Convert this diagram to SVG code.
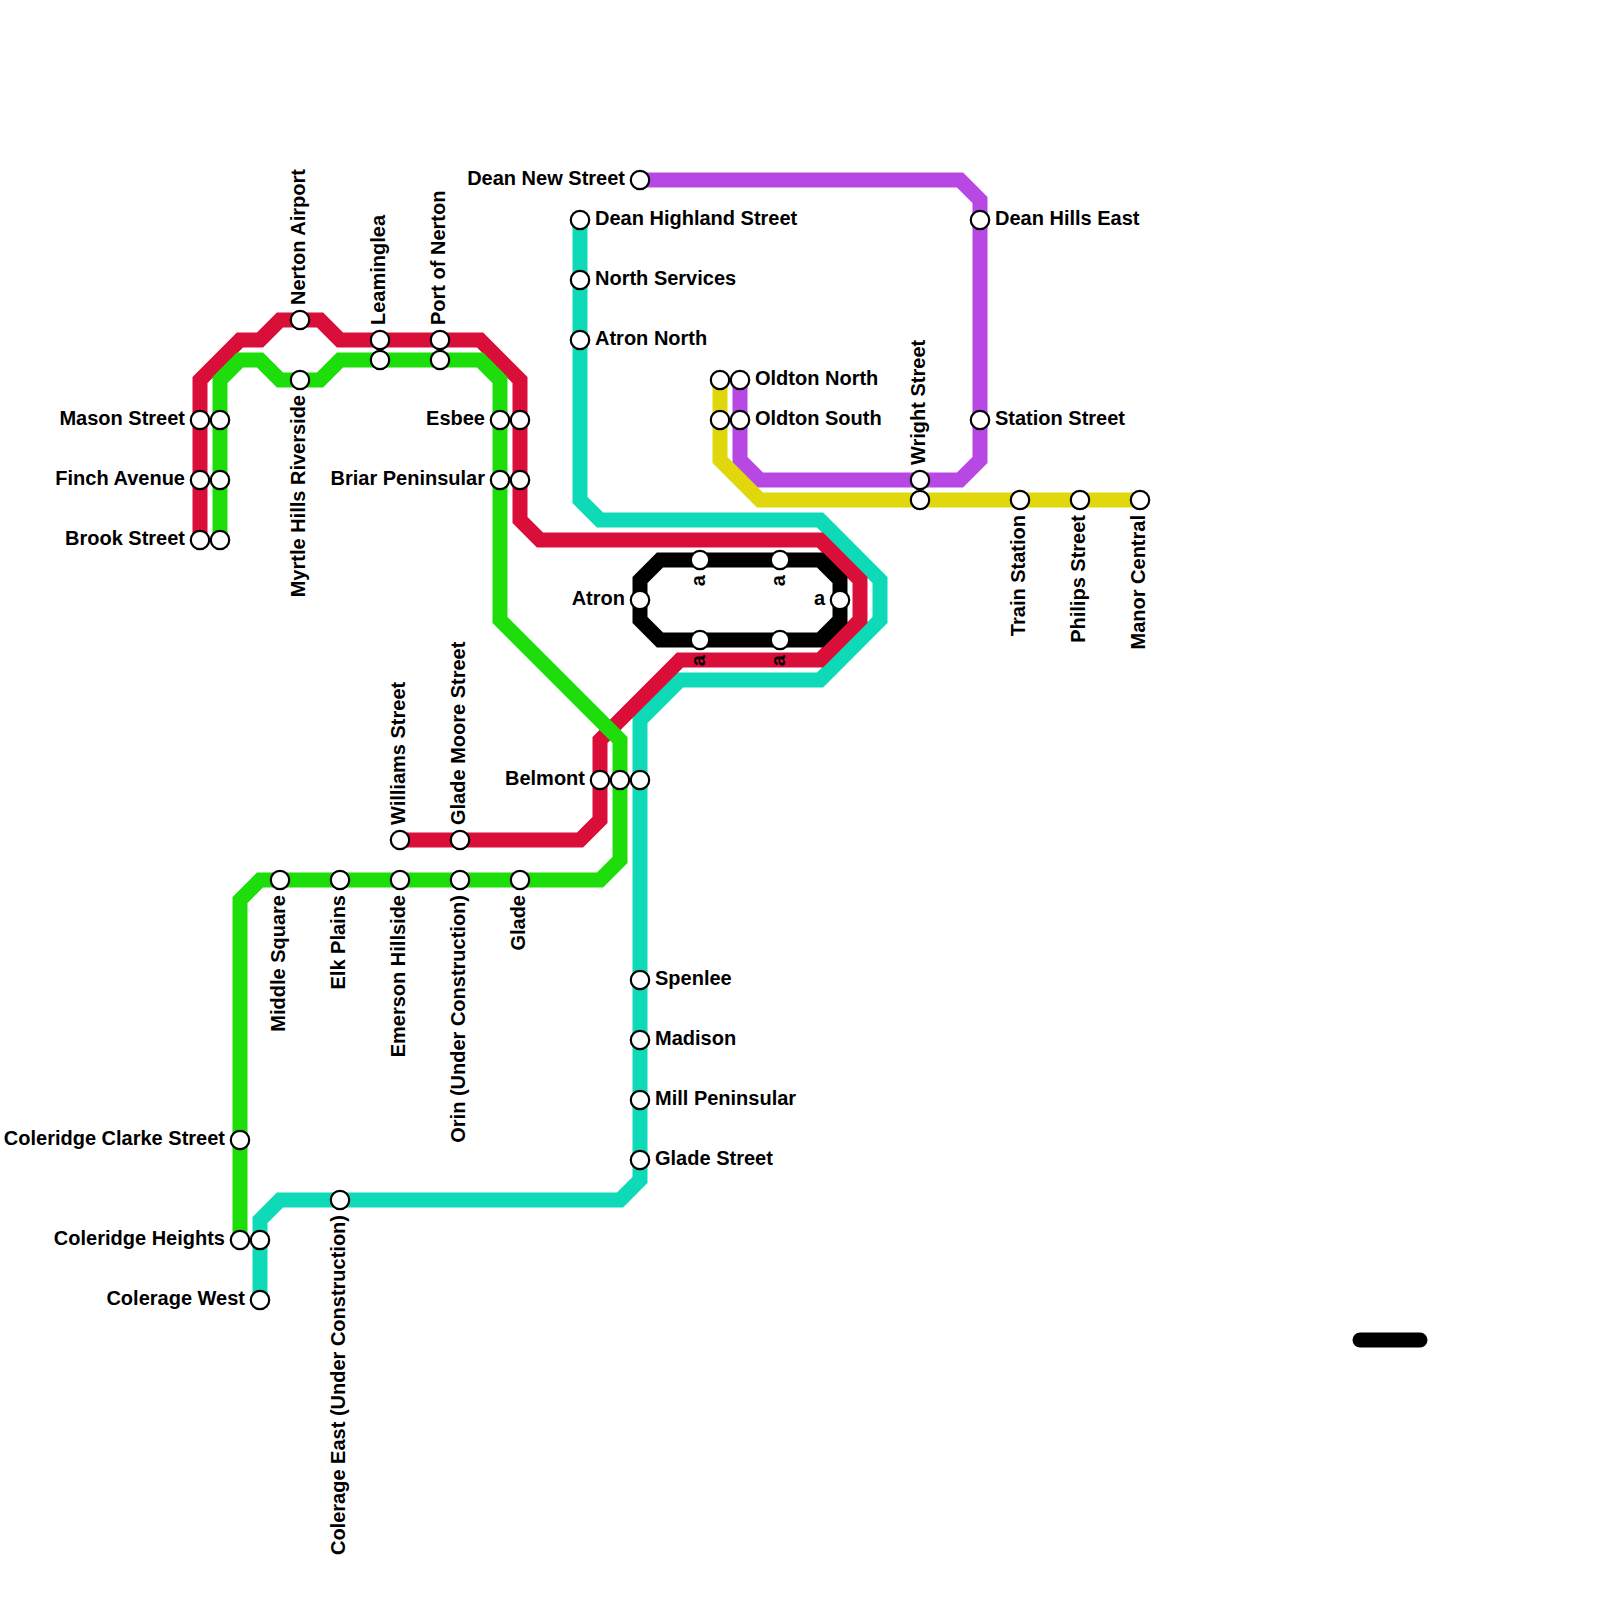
<svg xmlns="http://www.w3.org/2000/svg" width="1600" height="1600" viewBox="0 0 1600 1600">
<style>
.l{fill:none;stroke-width:15;stroke-linejoin:miter;stroke-linecap:butt}
.s{fill:#fff;stroke:#000;stroke-width:2.2}
text{font-family:"Liberation Sans",Arial,sans-serif;font-weight:700;font-size:20px;fill:#000}
.e{text-anchor:end}
</style>
<rect width="1600" height="1600" fill="#fff"/>
<g id="connectors">
<polyline class="l" stroke="#0fdab8" points="580,220 580,500 600,520 820,520 880,580 880,620 820,680 680,680 640,720 640,1180 620,1200 280,1200 260,1220 260,1300"/>
<polyline class="l" stroke="#d90f3a" points="200,540 200,380 240,340 260,340 280,320 320,320 340,340 480,340 520,380 520,520 540,540 820,540 860,580 860,620 820,660 680,660 600,740 600,820 580,840 400,840"/>
<polyline class="l" stroke="#1ddd0b" points="220,540 220,380 240,360 260,360 280,380 320,380 340,360 480,360 500,380 500,620 620,740 620,860 600,880 260,880 240,900 240,1240"/>
<polygon class="l" stroke="#000" points="640,580 660,560 820,560 840,580 840,620 820,640 660,640 640,620"/>
<polyline class="l" stroke="#b748e3" points="640,180 960,180 980,200 980,460 960,480 760,480 740,460 740,380"/>
<polyline class="l" stroke="#e0d80c" points="720,380 720,460 760,500 1140,500"/>
<line x1="1360" y1="1340" x2="1420" y2="1340" stroke="#000" stroke-width="15" stroke-linecap="round"/>
</g>
<g id="n-mason"><circle class="s" cx="200" cy="420" r="9.2"/><text class="e" x="185" y="425">Mason Street</text></g>
<g id="n-finch"><circle class="s" cx="200" cy="480" r="9.2"/><text class="e" x="185" y="485">Finch Avenue</text></g>
<g id="n-brook"><circle class="s" cx="200" cy="540" r="9.2"/><text class="e" x="185" y="545">Brook Street</text></g>
<g id="n-mason-g"><circle class="s" cx="220" cy="420" r="9.2"/></g>
<g id="n-finch-g"><circle class="s" cx="220" cy="480" r="9.2"/></g>
<g id="n-brook-g"><circle class="s" cx="220" cy="540" r="9.2"/></g>
<g id="n-nerton"><circle class="s" cx="300" cy="320" r="9.2"/><text transform="translate(305,305) rotate(-90)">Nerton Airport</text></g>
<g id="n-myrtle"><circle class="s" cx="300" cy="380" r="9.2"/><text class="e" transform="translate(305,395) rotate(-90)">Myrtle Hills Riverside</text></g>
<g id="n-leaminglea"><circle class="s" cx="380" cy="340" r="9.2"/><text transform="translate(385,325) rotate(-90)">Leaminglea</text></g>
<g id="n-leaminglea-g"><circle class="s" cx="380" cy="360" r="9.2"/></g>
<g id="n-port"><circle class="s" cx="440" cy="340" r="9.2"/><text transform="translate(445,325) rotate(-90)">Port of Nerton</text></g>
<g id="n-port-g"><circle class="s" cx="440" cy="360" r="9.2"/></g>
<g id="n-esbee"><circle class="s" cx="500" cy="420" r="9.2"/><text class="e" x="485" y="425">Esbee</text></g>
<g id="n-esbee-r"><circle class="s" cx="520" cy="420" r="9.2"/></g>
<g id="n-briar"><circle class="s" cx="500" cy="480" r="9.2"/><text class="e" x="485" y="485">Briar Peninsular</text></g>
<g id="n-briar-r"><circle class="s" cx="520" cy="480" r="9.2"/></g>
<g id="n-deannew"><circle class="s" cx="640" cy="180" r="9.2"/><text class="e" x="625" y="185">Dean New Street</text></g>
<g id="n-deanhigh"><circle class="s" cx="580" cy="220" r="9.2"/><text x="595" y="225">Dean Highland Street</text></g>
<g id="n-north"><circle class="s" cx="580" cy="280" r="9.2"/><text x="595" y="285">North Services</text></g>
<g id="n-atronn"><circle class="s" cx="580" cy="340" r="9.2"/><text x="595" y="345">Atron North</text></g>
<g id="n-oldn-y"><circle class="s" cx="720" cy="380" r="9.2"/></g>
<g id="n-oldn"><circle class="s" cx="740" cy="380" r="9.2"/><text x="755" y="385">Oldton North</text></g>
<g id="n-olds-y"><circle class="s" cx="720" cy="420" r="9.2"/></g>
<g id="n-olds"><circle class="s" cx="740" cy="420" r="9.2"/><text x="755" y="425">Oldton South</text></g>
<g id="n-wright"><circle class="s" cx="920" cy="480" r="9.2"/><text transform="translate(925,465) rotate(-90)">Wright Street</text></g>
<g id="n-wright-y"><circle class="s" cx="920" cy="500" r="9.2"/></g>
<g id="n-deanhills"><circle class="s" cx="980" cy="220" r="9.2"/><text x="995" y="225">Dean Hills East</text></g>
<g id="n-station"><circle class="s" cx="980" cy="420" r="9.2"/><text x="995" y="425">Station Street</text></g>
<g id="n-train"><circle class="s" cx="1020" cy="500" r="9.2"/><text class="e" transform="translate(1025,515) rotate(-90)">Train Station</text></g>
<g id="n-philips"><circle class="s" cx="1080" cy="500" r="9.2"/><text class="e" transform="translate(1085,515) rotate(-90)">Philips Street</text></g>
<g id="n-manor"><circle class="s" cx="1140" cy="500" r="9.2"/><text class="e" transform="translate(1145,515) rotate(-90)">Manor Central</text></g>
<g id="n-atron"><circle class="s" cx="640" cy="600" r="9.2"/><text class="e" x="625" y="605">Atron</text></g>
<g id="n-a1"><circle class="s" cx="700" cy="560" r="9.2"/><text class="e" transform="translate(705,575) rotate(-90)">a</text></g>
<g id="n-a2"><circle class="s" cx="780" cy="560" r="9.2"/><text class="e" transform="translate(785,575) rotate(-90)">a</text></g>
<g id="n-a3"><circle class="s" cx="840" cy="600" r="9.2"/><text class="e" x="825" y="605">a</text></g>
<g id="n-a4"><circle class="s" cx="700" cy="640" r="9.2"/><text class="e" transform="translate(705,655) rotate(-90)">a</text></g>
<g id="n-a5"><circle class="s" cx="780" cy="640" r="9.2"/><text class="e" transform="translate(785,655) rotate(-90)">a</text></g>
<g id="n-belmont"><circle class="s" cx="600" cy="780" r="9.2"/><text class="e" x="585" y="785">Belmont</text></g>
<g id="n-belmont-g"><circle class="s" cx="620" cy="780" r="9.2"/></g>
<g id="n-belmont-t"><circle class="s" cx="640" cy="780" r="9.2"/></g>
<g id="n-williams"><circle class="s" cx="400" cy="840" r="9.2"/><text transform="translate(405,825) rotate(-90)">Williams Street</text></g>
<g id="n-glademoore"><circle class="s" cx="460" cy="840" r="9.2"/><text transform="translate(465,825) rotate(-90)">Glade Moore Street</text></g>
<g id="n-middle"><circle class="s" cx="280" cy="880" r="9.2"/><text class="e" transform="translate(285,895) rotate(-90)">Middle Square</text></g>
<g id="n-elk"><circle class="s" cx="340" cy="880" r="9.2"/><text class="e" transform="translate(345,895) rotate(-90)">Elk Plains</text></g>
<g id="n-emerson"><circle class="s" cx="400" cy="880" r="9.2"/><text class="e" transform="translate(405,895) rotate(-90)">Emerson Hillside</text></g>
<g id="n-orin"><circle class="s" cx="460" cy="880" r="9.2"/><text class="e" transform="translate(465,895) rotate(-90)">Orin (Under Construction)</text></g>
<g id="n-glade"><circle class="s" cx="520" cy="880" r="9.2"/><text class="e" transform="translate(525,895) rotate(-90)">Glade</text></g>
<g id="n-spenlee"><circle class="s" cx="640" cy="980" r="9.2"/><text x="655" y="985">Spenlee</text></g>
<g id="n-madison"><circle class="s" cx="640" cy="1040" r="9.2"/><text x="655" y="1045">Madison</text></g>
<g id="n-mill"><circle class="s" cx="640" cy="1100" r="9.2"/><text x="655" y="1105">Mill Peninsular</text></g>
<g id="n-gladest"><circle class="s" cx="640" cy="1160" r="9.2"/><text x="655" y="1165">Glade Street</text></g>
<g id="n-clarke"><circle class="s" cx="240" cy="1140" r="9.2"/><text class="e" x="225" y="1145">Coleridge Clarke Street</text></g>
<g id="n-heights"><circle class="s" cx="240" cy="1240" r="9.2"/><text class="e" x="225" y="1245">Coleridge Heights</text></g>
<g id="n-heights-t"><circle class="s" cx="260" cy="1240" r="9.2"/></g>
<g id="n-west"><circle class="s" cx="260" cy="1300" r="9.2"/><text class="e" x="245" y="1305">Colerage West</text></g>
<g id="n-east"><circle class="s" cx="340" cy="1200" r="9.2"/><text class="e" transform="translate(345,1215) rotate(-90)">Colerage East (Under Construction)</text></g>
</svg>
